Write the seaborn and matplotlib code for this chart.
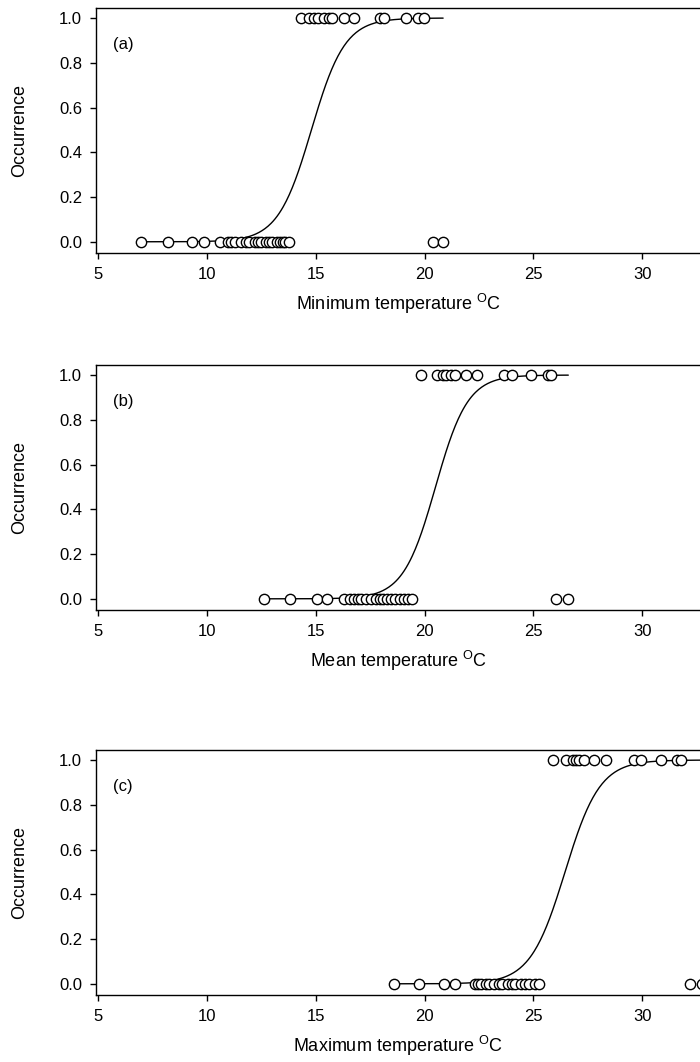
import numpy as np
import pandas as pd
import matplotlib
matplotlib.use("Agg")
import matplotlib.pyplot as plt
import seaborn as sns

sns.set_style("ticks")
plt.rcParams['font.family'] = ['Liberation Sans Narrow', 'Liberation Sans', 'DejaVu Sans']
plt.rcParams['mathtext.fontset'] = 'custom'
plt.rcParams['mathtext.rm'] = 'Liberation Sans'
plt.rcParams['text.color'] = 'black'
plt.rcParams['axes.labelcolor'] = 'black'
plt.rcParams['xtick.color'] = 'black'
plt.rcParams['ytick.color'] = 'black'

# ---- data ----
panel_labels = ["(a)", "(b)", "(c)"]
x_labels = ["Minimum temperature", "Mean temperature", "Maximum temperature"]
x_ticks = [5, 10, 15, 20, 25, 30]
y_ticks = [0.0, 0.2, 0.4, 0.6, 0.8, 1.0]

a_present = [14.3, 14.7, 14.9, 15.1, 15.4, 15.6, 15.75, 16.3, 16.75, 17.95, 18.15, 19.15, 19.7, 19.95]
a_absent = [6.95, 8.2, 9.3, 9.85, 10.6, 10.95, 11.1, 11.3, 11.55, 11.8, 11.95, 12.2, 12.35, 12.5,
            12.7, 12.85, 13.0, 13.2, 13.35, 13.5, 13.6, 13.75, 20.4, 20.85]
b_present = [19.85, 20.55, 20.85, 21.0, 21.2, 21.4, 21.9, 22.4, 23.65, 24.0, 24.9, 25.65, 25.8]
b_absent = [12.6, 13.8, 15.05, 15.5, 16.3, 16.55, 16.75, 16.95, 17.1, 17.3, 17.55, 17.75, 17.95,
            18.1, 18.25, 18.45, 18.65, 18.85, 19.05, 19.25, 19.4, 26.05, 26.6]
c_present = [25.9, 26.5, 26.8, 26.95, 27.1, 27.3, 27.8, 28.35, 29.6, 29.95, 30.85, 31.6, 31.8]
c_absent = [18.6, 19.75, 20.9, 21.4, 22.3, 22.45, 22.6, 22.8, 22.95, 23.2, 23.4, 23.55, 23.85,
            24.0, 24.15, 24.45, 24.6, 24.8, 25.05, 25.25, 32.2, 32.75]

# fitted logistic model parameters (midpoint, slope) for each panel
fit_midpoint = [14.8, 20.5, 26.45]
fit_slope = [1.3, 1.35, 1.25]

present = [a_present, b_present, c_present]
absent = [a_absent, b_absent, c_absent]

fig = plt.figure(figsize=(7.0, 10.62), dpi=100)
ax_rects = [
    [0.137, 0.7618, 0.863, 0.2307],
    [0.137, 0.4256, 0.863, 0.2307],
    [0.137, 0.0631, 0.863, 0.2307],
]

for i in range(3):
    ax = fig.add_axes(ax_rects[i])
    xs = np.array(present[i] + absent[i])
    ys = np.array([1.0] * len(present[i]) + [0.0] * len(absent[i]))
    df = pd.DataFrame({"temp": xs, "occ": ys})

    xc = np.linspace(xs.min(), xs.max(), 300)
    yc = 1.0 / (1.0 + np.exp(-fit_slope[i] * (xc - fit_midpoint[i])))
    curve = pd.DataFrame({"temp": xc, "occ": yc})
    sns.lineplot(data=curve, x="temp", y="occ", ax=ax, color="black", linewidth=1.0,
                 estimator=None, sort=False, zorder=2)
    sns.scatterplot(data=df, x="temp", y="occ", ax=ax, marker="o", s=55,
                    facecolor="white", edgecolor="black", linewidth=1.0, zorder=3)

    ax.set_xlim(4.9, 32.65)
    ax.set_ylim(-0.05, 1.045)
    ax.set_xticks(x_ticks)
    ax.set_yticks(y_ticks)
    ax.set_xticklabels([str(t) for t in x_ticks], fontsize=12)
    ax.set_yticklabels([f"{t:.1f}" for t in y_ticks], fontsize=12)
    ax.tick_params(direction="out", length=4, width=1, colors="black", pad=6)
    for sp in ["left", "bottom", "top"]:
        ax.spines[sp].set_visible(True)
        ax.spines[sp].set_linewidth(1.0)
        ax.spines[sp].set_color("black")
    ax.spines["right"].set_visible(False)

    ax.set_xlabel(x_labels[i] + r" $^{\mathrm{O}}$C", fontsize=13, labelpad=7)
    ax.set_ylabel("Occurrence", fontsize=13, labelpad=22)
    ax.text(5.7, 0.88, panel_labels[i], fontsize=12, ha="left", va="center")

fig.savefig("out.png", dpi=100, facecolor="white")
